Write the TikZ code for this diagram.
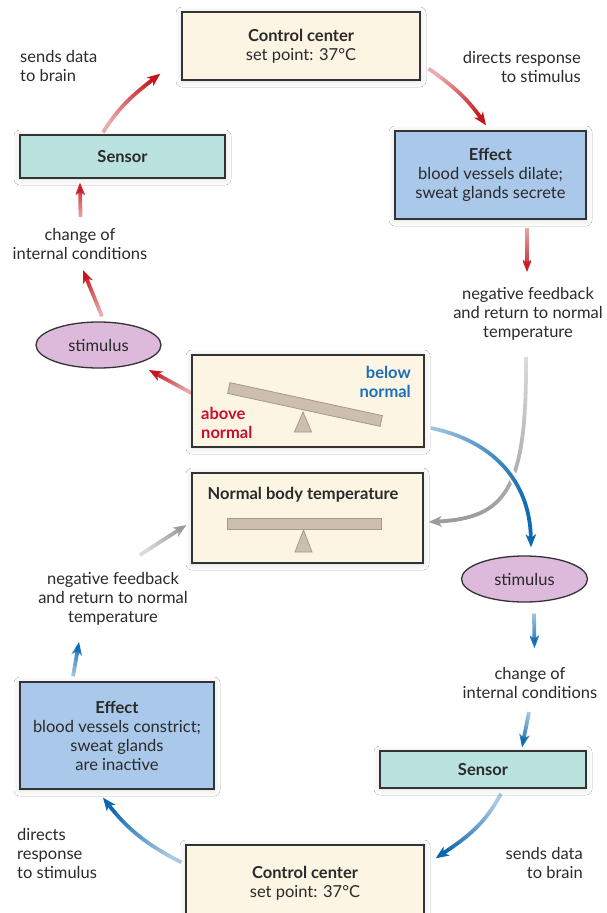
\documentclass[tikz,border=0pt]{standalone}
\usepackage{fontspec}
\setmainfont{Lato}
\usetikzlibrary{arrows.meta,fadings,shapes.geometric,shadows.blur}
\definecolor{cream}{HTML}{FDF5E4}
\definecolor{tealbox}{HTML}{BAE2DE}
\definecolor{bluebox}{HTML}{AAC8E9}
\definecolor{pinkish}{HTML}{DDB9DB}
\definecolor{barfill}{HTML}{CCBFAF}
\definecolor{barline}{HTML}{A8988A}
\definecolor{arred}{HTML}{C4161C}
\definecolor{arblue}{HTML}{0A67B0}
\definecolor{argray}{HTML}{9B9B9D}
\definecolor{txt}{HTML}{2A2A2A}
\definecolor{boxline}{HTML}{333333}
\definecolor{lblred}{HTML}{C8102E}
\definecolor{lblblue}{HTML}{1B6FB6}
\tikzfading[name=tailfade, top color=transparent!0, middle color=transparent!0, bottom color=transparent!65]
\newcommand\myfs{\fontsize{16.5}{19}\selectfont}
\tikzset{
  shape base/.style={draw=boxline, line width=1.3pt, inner sep=0pt, align=center, text=txt, font=\myfs},
  box/.style={shape base,
    blur shadow={shadow xshift=0pt, shadow yshift=-1pt, shadow blur radius=6pt, shadow blur steps=6, shadow opacity=15}},
  oval/.style={shape base, ellipse},
  lbl/.style={text=txt, font=\myfs, align=center, inner sep=0pt},
  arr/.style={line width=3.8pt, -{Stealth[length=13pt,width=10.5pt,inset=3.5pt]}, path fading=tailfade},
  redarr/.style={arr, draw=arred},
  bluearr/.style={arr, draw=arblue},
  grayarr/.style={arr, draw=argray},
  beam/.style={fill=barfill, draw=barline, line width=0.8pt},
}
\begin{document}
\begin{tikzpicture}[x=1pt,y=1pt]
\useasboundingbox (0,0) rectangle (606,-913);
\fill[white] (0,0) rectangle (606,-913);

% boxes
\node[box, fill=cream, minimum width=238pt, minimum height=68pt] (cc1) at (301,-46)
  {\textbf{Control center}\\set point: 37°C};
\node[box, fill=tealbox, minimum width=205pt, minimum height=43pt] (sen1) at (122.5,-156.5)
  {\textbf{Sensor}};
\node[box, fill=bluebox, minimum width=191pt, minimum height=88pt] (eff1) at (490.5,-175)
  {\textbf{Effect}\\blood vessels dilate;\\sweat glands secrete};
\node[oval, fill=pinkish, minimum width=125pt, minimum height=46pt] (stim1) at (98.5,-345)
  {stimulus};
\node[box, fill=cream, minimum width=232pt, minimum height=92pt] (bal1) at (308,-401) {};
\node[box, fill=cream, minimum width=231pt, minimum height=90pt] (norm) at (307.5,-518) {};
\node[oval, fill=pinkish, minimum width=126pt, minimum height=46pt] (stim2) at (524.5,-579)
  {stimulus};
\node[box, fill=bluebox, minimum width=194pt, minimum height=107pt] (eff2) at (117,-735.5)
  {\textbf{Effect}\\blood vessels constrict;\\sweat glands\\are inactive};
\node[box, fill=tealbox, minimum width=206pt, minimum height=37pt] (sen2) at (483,-769.5)
  {\textbf{Sensor}};
\node[box, fill=cream, minimum width=238pt, minimum height=76pt] (cc2) at (305,-883)
  {\textbf{Control center}\\set point: 37°C};

% balance contents
\fill[barfill, draw=barline, line width=0.8pt] (303,-412) -- (294.5,-432) -- (311.5,-432) -- cycle;
\draw[beam, rotate around={-12.2:(305,-404.5)}] (227,-399) rectangle (383,-410);
\node[lbl, font=\myfs\bfseries, text=lblblue, align=right, anchor=east] (below) at (411,-381.5) {below\\normal};
\node[lbl, font=\myfs\bfseries, text=lblred, align=left, anchor=west] (above) at (201,-422.5) {above\\normal};

\node[lbl, font=\myfs\bfseries] (normt) at (303,-495) {Normal body temperature};
\fill[barfill, draw=barline, line width=0.8pt] (303.5,-530) -- (295,-552) -- (312,-552) -- cycle;
\draw[beam] (227,-518) rectangle (381,-529);

% labels
\node[lbl, align=left, anchor=west] (sd1) at (20,-66) {sends data\\to brain};
\node[lbl, align=right, anchor=east] (dr1) at (581,-66.5) {directs response\\to stimulus};
\node[lbl] (nf1) at (528,-314) {negative feedback\\and return to normal\\temperature};
\node[lbl] (ch1) at (80,-243.5) {change of\\internal conditions};
\node[lbl] (nf2) at (113,-599) {negative feedback\\and return to normal\\temperature};
\node[lbl] (ch2) at (530,-682.5) {change of\\internal conditions};
\node[lbl, align=left, anchor=west] (dr2) at (17,-853) {directs\\response\\to stimulus};
\node[lbl, align=right, anchor=east] (sd2) at (583,-863) {sends data\\to brain};

% free arrow ends
\coordinate (a3e) at (527,-272);
\coordinate (a4s) at (526,-357);
\coordinate (a7e) at (83,-270);
\coordinate (a8s) at (80.5,-217);
\coordinate (a9s) at (140,-555);
\coordinate (a10e) at (79,-642);
\coordinate (a11e) at (534.5,-648);
\coordinate (a12s) at (529,-712);

% red cycle
\draw[redarr, fading angle=-44] ([shift={(-19.5,2)}]sen1.north) to[out=58,in=218] ([shift={(-21,7)}]cc1.south west);
\draw[redarr, fading angle=-135] ([shift={(8,12)}]cc1.south east) to[out=-35,in=125] ([shift={(-4.5,5)}]eff1.north);
\draw[redarr, fading angle=180] ([shift={(36.5,-8)}]eff1.south) -- (a3e);
\draw[redarr, fading angle=62] ([shift={(0,8)}]bal1.west) -- ([shift={(50.5,-25)}]stim1.center);
\draw[redarr, fading angle=22] ([shift={(3.5,5)}]stim1.north) -- (a7e);
\draw[redarr, fading angle=0] (a8s) -- ([shift={(-42.5,-4)}]sen1.south);

% gray returns
\draw[grayarr, fading angle=180] (a4s) .. controls +(1,-133) and +(77,4) .. ([shift={(5,-4)}]norm.east);
\draw[grayarr, fading angle=-58] (a9s) -- ([shift={(-5,-7)}]norm.west);

% blue cycle
\draw[white, line width=9pt, shorten >=14pt] ([shift={(6,-27)}]bal1.east) .. controls +(60,-12) and +(-1,68) .. ([shift={(6.5,8)}]stim2.north);
\draw[bluearr, fading angle=-90] ([shift={(6,-27)}]bal1.east) .. controls +(60,-12) and +(-1,68) .. ([shift={(6.5,8)}]stim2.north);
\draw[bluearr, fading angle=180] ([shift={(9.5,-11)}]stim2.south) -- (a11e);
\draw[bluearr, fading angle=169] (a12s) -- ([shift={(39,3)}]sen2.north);
\draw[bluearr, fading angle=135] ([shift={(18,-5)}]sen2.south) to[out=-118,in=34] ([shift={(11,-14)}]cc2.north east);
\draw[bluearr, fading angle=50] ([shift={(-4,-18)}]cc2.north west) to[out=153,in=-52] ([shift={(-14,-8)}]eff2.south);
\draw[bluearr, fading angle=-11] ([shift={(-44,5)}]eff2.north) -- (a10e);
\end{tikzpicture}
\end{document}
